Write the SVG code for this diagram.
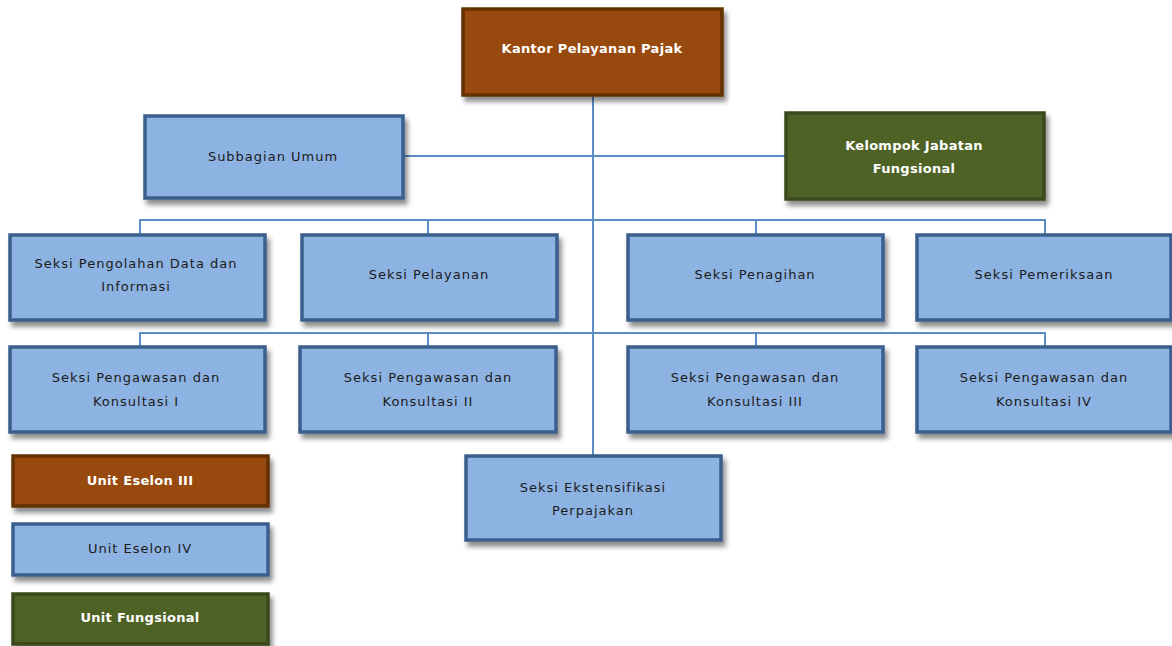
<svg xmlns="http://www.w3.org/2000/svg" width="1172" height="646" viewBox="0 0 1172 646">
<defs>
<filter id="sh" x="-10%" y="-10%" width="125%" height="135%">
<feDropShadow dx="3" dy="5" stdDeviation="2.5" flood-color="#000" flood-opacity="0.45"/>
</filter>
<style>
.b{stroke-width:3.5;filter:url(#sh)}
.e3{fill:#984807;stroke:#643104}
.e4{fill:#8db3e2;stroke:#3a5f8c}
.fn{fill:#4f6228;stroke:#3a4a1b}
text{font-family:"DejaVu Sans","Liberation Sans",sans-serif;font-size:13px;text-anchor:middle}
.d{fill:#1b1b1b;letter-spacing:1px}
.w{fill:#ffffff;font-weight:bold;letter-spacing:0.3px}
.c{fill:none;stroke:#5b8cc6;stroke-width:2}
</style>
</defs>
<rect width="1172" height="646" fill="#ffffff"/>
<g id="connectors">
<path class="c" d="M593 95V455"/>
<path class="c" d="M404 156H785"/>
<path class="c" d="M140 234V220H1045V234M428 220V234M756 220V234"/>
<path class="c" d="M140 346V333H1045V346M428 333V346M756 333V346"/>
</g>
<g id="kpp"><rect class="b e3" x="463" y="9" width="259" height="86"/><text class="w" x="592" y="53">Kantor Pelayanan Pajak</text></g>
<g id="subbagian"><rect class="b e4" x="145" y="116" width="258" height="82"/><text class="d" x="273" y="161">Subbagian Umum</text></g>
<g id="kjf"><rect class="b fn" x="786" y="113" width="258" height="86"/><text class="w" x="914" y="150">Kelompok Jabatan</text><text class="w" x="914" y="173">Fungsional</text></g>
<g id="pdi"><rect class="b e4" x="10" y="235" width="255" height="85"/><text class="d" x="136" y="268">Seksi Pengolahan Data dan</text><text class="d" x="136" y="291">Informasi</text></g>
<g id="pelayanan"><rect class="b e4" x="302" y="235" width="255" height="85"/><text class="d" x="429" y="279">Seksi Pelayanan</text></g>
<g id="penagihan"><rect class="b e4" x="628" y="235" width="255" height="85"/><text class="d" x="755" y="279">Seksi Penagihan</text></g>
<g id="pemeriksaan"><rect class="b e4" x="917" y="235" width="254" height="85"/><text class="d" x="1044" y="279">Seksi Pemeriksaan</text></g>
<g id="pk1"><rect class="b e4" x="10" y="347" width="255" height="85"/><text class="d" x="136" y="382">Seksi Pengawasan dan</text><text class="d" x="136" y="406">Konsultasi I</text></g>
<g id="pk2"><rect class="b e4" x="300" y="347" width="256" height="85"/><text class="d" x="428" y="382">Seksi Pengawasan dan</text><text class="d" x="428" y="406">Konsultasi II</text></g>
<g id="pk3"><rect class="b e4" x="628" y="347" width="255" height="85"/><text class="d" x="755" y="382">Seksi Pengawasan dan</text><text class="d" x="755" y="406">Konsultasi III</text></g>
<g id="pk4"><rect class="b e4" x="917" y="347" width="254" height="85"/><text class="d" x="1044" y="382">Seksi Pengawasan dan</text><text class="d" x="1044" y="406">Konsultasi IV</text></g>
<g id="ekstensifikasi"><rect class="b e4" x="466" y="456" width="255" height="84"/><text class="d" x="593" y="492">Seksi Ekstensifikasi</text><text class="d" x="593" y="515">Perpajakan</text></g>
<g id="legend-e3"><rect class="b e3" x="13" y="456" width="255" height="50"/><text class="w" x="140" y="485">Unit Eselon III</text></g>
<g id="legend-e4"><rect class="b e4" x="13" y="524" width="255" height="51"/><text class="d" x="140" y="553">Unit Eselon IV</text></g>
<g id="legend-fn"><rect class="b fn" x="13" y="594" width="255" height="50"/><text class="w" x="140" y="622">Unit Fungsional</text></g>
</svg>
